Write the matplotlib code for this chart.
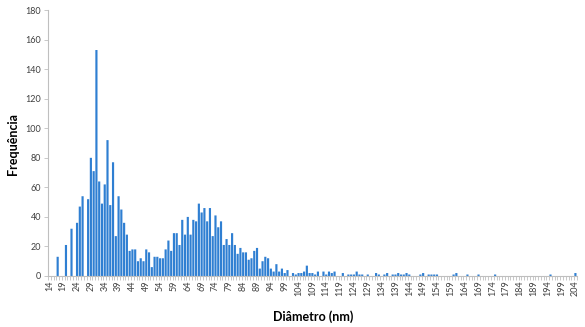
import matplotlib
matplotlib.use("Agg")
import matplotlib.pyplot as plt
import numpy as np

diameters = list(range(14, 205))
frequencies = (
    [0, 0, 0, 13, 0, 0, 21, 0, 32, 0] +          # 14-23
    [36, 47, 54, 0, 52, 80, 71, 153, 64, 49] +    # 24-33
    [62, 92, 48, 77, 27, 54, 45, 36, 28, 17] +    # 34-43
    [18, 18, 10, 12, 10, 18, 16, 6, 13, 13] +     # 44-53
    [12, 12, 18, 24, 17, 29, 29, 21, 38, 28] +    # 54-63
    [40, 28, 38, 37, 49, 43, 46, 37, 46, 27] +    # 64-73
    [41, 33, 37, 21, 25, 21, 29, 21, 15, 19] +    # 74-83
    [16, 16, 11, 12, 17, 19, 5, 10, 13, 12] +     # 84-93
    [5, 3, 8, 3, 5, 2, 4, 0, 2, 1] +              # 94-103
    [2, 2, 3, 7, 2, 2, 1, 3, 0, 3] +              # 104-113
    [1, 3, 2, 3, 0, 0, 2, 0, 1, 1] +              # 114-123
    [1, 3, 1, 1, 0, 1, 0, 0, 2, 1] +              # 124-133
    [0, 1, 2, 0, 1, 1, 2, 1, 1, 2] +              # 134-143
    [1, 0, 0, 0, 1, 2, 0, 1, 1, 1] +              # 144-153
    [1, 0, 0, 0, 0, 0, 1, 2, 0, 0] +              # 154-163
    [0, 1, 0, 0, 0, 1, 0, 0, 0, 0] +              # 164-173
    [0, 1, 0, 0, 0, 0, 0, 0, 0, 0] +              # 174-183
    [0, 0, 0, 0, 0, 0, 0, 0, 0, 0] +              # 184-193
    [0, 1, 0, 0, 0, 0, 0, 0, 0, 0] +              # 194-203
    [2]                                           # 204
)
yticks = list(range(0, 181, 20))
xlabel = "Diâmetro (nm)"
ylabel = "Frequência"

plt.rcParams['font.family'] = ['Lato', 'DejaVu Sans']

fig = plt.figure(figsize=(5.85, 3.27), dpi=100)
ax = fig.add_axes([0.082, 0.156, 0.904, 0.813])

pos = np.arange(len(diameters))
bars = ax.bar(pos, frequencies, width=0.78, color='#2F7FD2', edgecolor='none')
for b in bars:
    b.set_snap(False)

ax.set_xlim(-0.5, len(diameters) - 0.5)
ax.set_ylim(0, 180)
ax.set_yticks(yticks)
ax.set_yticklabels([str(v) for v in yticks], fontsize=6.5, color='#404040')

major = [i for i, d in enumerate(diameters) if (d - 14) % 5 == 0]
ax.set_xticks(major)
ax.set_xticklabels([str(diameters[i]) for i in major], rotation=90,
                   fontsize=6.5, color='#404040')
ax.tick_params(axis='x', which='major', length=0, pad=3)
ax.set_xticks(np.arange(-0.5, len(diameters), 1), minor=True)
ax.tick_params(axis='x', which='minor', length=3, color='#BFBFBF', width=0.6)
ax.tick_params(axis='y', length=3, color='#BFBFBF', width=0.6, pad=2)

for s in ['top', 'right']:
    ax.spines[s].set_visible(False)
for s in ['left', 'bottom']:
    ax.spines[s].set_color('#BFBFBF')
    ax.spines[s].set_linewidth(0.8)

fig.text(0.535, 0.033, xlabel, ha='center', va='center', fontsize=9,
         fontweight='bold')
fig.text(0.022, 0.56, ylabel, ha='center', va='center', rotation=90,
         fontsize=9, fontweight='bold')

fig.savefig('out.png', dpi=100)
